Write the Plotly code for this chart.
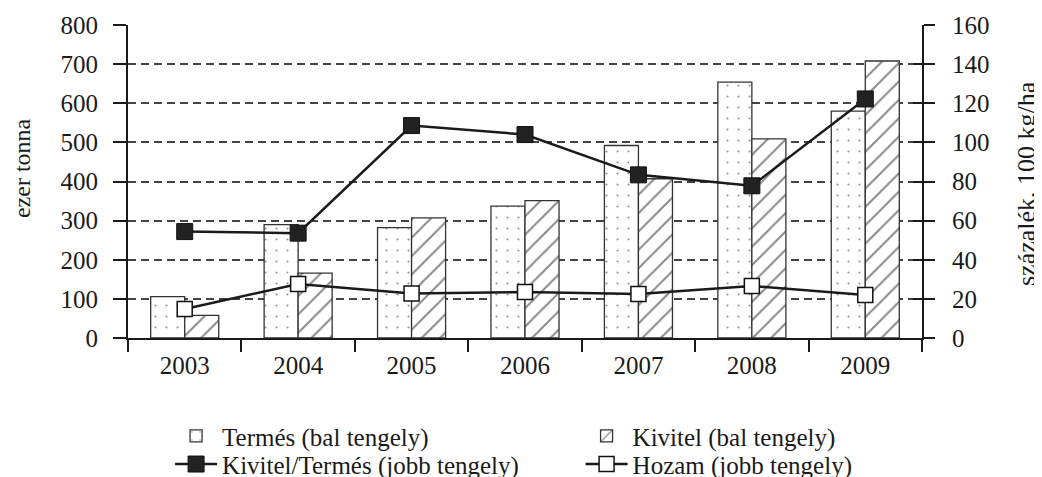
import plotly.graph_objects as go

# ── Data ──────────────────────────────────────────────────────────────────────
years = ["2003", "2004", "2005", "2006", "2007", "2008", "2009"]
termes = [106, 290, 282, 337, 492, 654, 580]          # ezer tonna
kivitel = [58, 166, 307, 351, 407, 509, 708]          # ezer tonna
kivitel_termes = [54.4, 53.6, 108.6, 104, 83.4, 77.8, 122.2]  # százalék
hozam = [14.8, 27.6, 22.8, 23.5, 22.5, 26.6, 22.0]   # 100 kg/ha

left_ticks = list(range(0, 801, 100))
right_ticks = list(range(0, 161, 20))

# ── Style ─────────────────────────────────────────────────────────────────────
_FONT = "Liberation Serif"
_INK = "#1a1a1a"
_SIZE = 25

fig = go.Figure()

fig.add_trace(go.Bar(
    x=years, y=termes, name="Termés (bal tengely)",
    marker=dict(
        color="white",
        line=dict(color="#333", width=1.3),
        pattern=dict(shape=".", fgcolor="#222", bgcolor="white", size=11, solidity=0.03),
    ),
    legend="legend",
))
fig.add_trace(go.Bar(
    x=years, y=kivitel, name="Kivitel (bal tengely)",
    marker=dict(
        color="white",
        line=dict(color="#333", width=1.3),
        pattern=dict(shape="/", fgcolor="#111", bgcolor="white", size=13, solidity=0.15),
    ),
    legend="legend2",
))
fig.add_trace(go.Scatter(
    x=years, y=kivitel_termes, name="Kivitel/Termés (jobb tengely)",
    yaxis="y2", mode="lines+markers",
    line=dict(color=_INK, width=2.5),
    marker=dict(symbol="square", size=16, color="#222", line=dict(color="#111", width=1)),
    legend="legend3",
))
fig.add_trace(go.Scatter(
    x=years, y=hozam, name="Hozam (jobb tengely)",
    yaxis="y2", mode="lines+markers",
    line=dict(color=_INK, width=2.5),
    marker=dict(symbol="square", size=15, color="white", line=dict(color="#111", width=1.5)),
    legend="legend4",
))

# one legend per entry so the 2x2 grid can be placed exactly
_legend = dict(
    orientation="v", xanchor="left", yanchor="top",
    font=dict(family=_FONT, size=_SIZE, color=_INK),
    bgcolor="rgba(0,0,0,0)", itemwidth=42,
)
_col1, _col2 = 0.053, 0.570
_row1, _row2 = -0.240, -0.330

_axfont = dict(family=_FONT, size=_SIZE, color=_INK)

fig.update_layout(
    width=1042, height=477,
    paper_bgcolor="white", plot_bgcolor="white",
    font=dict(family=_FONT, size=_SIZE, color=_INK),
    margin=dict(l=120, r=128, t=17, b=147, autoexpand=False),
    barmode="group", bargap=0.4, bargroupgap=0,
    showlegend=True,
    legend={**_legend, "x": _col1, "y": _row1},
    legend2={**_legend, "x": _col2, "y": _row1},
    legend3={**_legend, "x": _col1, "y": _row2},
    legend4={**_legend, "x": _col2, "y": _row2},
    xaxis=dict(
        type="category", showgrid=False, zeroline=False, automargin=False,
        showline=True, linecolor=_INK, linewidth=2,
        ticks="outside", ticklen=12, tickwidth=2, tickcolor=_INK,
        tickson="boundaries", ticklabelstandoff=4, tickfont=_axfont,
    ),
    yaxis=dict(
        range=[0, 800], tickvals=left_ticks, zeroline=False, automargin=False,
        showline=True, linecolor=_INK, linewidth=2,
        ticks="outside", ticklen=13, tickwidth=2, tickcolor=_INK,
        ticklabelstandoff=10, tickfont=_axfont,
        showgrid=True, gridcolor="#444", gridwidth=1.5, griddash="8px,5px",
    ),
    yaxis2=dict(
        range=[0, 160], tickvals=right_ticks, overlaying="y", side="right",
        showgrid=False, zeroline=False, automargin=False,
        showline=True, linecolor=_INK, linewidth=2,
        ticks="outside", ticklen=11, tickwidth=2, tickcolor=_INK,
        ticklabelstandoff=12, tickfont=_axfont,
    ),
    yaxis3=dict(
        range=[0, 160], tickvals=right_ticks, overlaying="y", side="right",
        showgrid=False, zeroline=False, showline=False, showticklabels=False,
        automargin=False, ticks="inside", ticklen=9, tickwidth=2, tickcolor=_INK,
    ),
    annotations=[
        dict(text="ezer tonna", textangle=-90, x=0, xref="paper", xshift=-106,
             xanchor="center", y=0.543, yref="paper", yanchor="middle", showarrow=False,
             font=dict(family=_FONT, size=24, color=_INK)),
        dict(text="százalék, 100 kg/ha", textangle=-90, x=1.0, xref="paper",
             xshift=104, xanchor="center", y=0.492, yref="paper", yanchor="middle",
             showarrow=False, font=dict(family=_FONT, size=26, color=_INK)),
    ],
)

# dummy trace so yaxis3 (crossing ticks on right axis) gets drawn
fig.add_trace(go.Scatter(x=[years[0]], y=[0], yaxis="y3", mode="markers",
                         marker=dict(opacity=0), showlegend=False, hoverinfo="skip"))

fig.write_html("out.html")
